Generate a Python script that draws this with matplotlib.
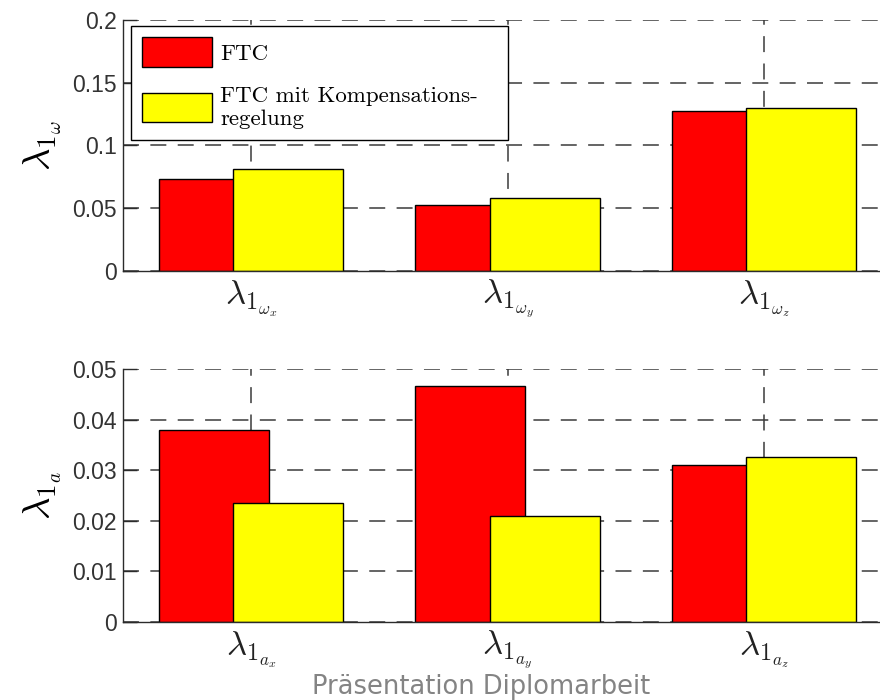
import numpy as np
import matplotlib
matplotlib.use("Agg")
import matplotlib.pyplot as plt

plt.rcParams['mathtext.fontset'] = 'cm'

# data
labels_omega = [r'$\lambda_{1_{\omega_x}}$', r'$\lambda_{1_{\omega_y}}$', r'$\lambda_{1_{\omega_z}}$']
labels_a = [r'$\lambda_{1_{a_x}}$', r'$\lambda_{1_{a_y}}$', r'$\lambda_{1_{a_z}}$']
ftc_omega = [0.0733, 0.0526, 0.1275]
komp_omega = [0.0813, 0.0582, 0.1299]
ftc_a = [0.0379, 0.0466, 0.0310]
komp_a = [0.0235, 0.0210, 0.0326]
yticks_omega = [0, 0.05, 0.1, 0.15, 0.2]
yticks_a = [0, 0.01, 0.02, 0.03, 0.04, 0.05]
legend_labels = ['FTC', 'FTC mit Kompensations-\nregelung']

W = 880.0
H = 700.0
fig = plt.figure(figsize=(8.8, 7), dpi=100)
ax1 = fig.add_axes([123 / W, 1 - 271 / H, 769 / W, 251 / H])
ax2 = fig.add_axes([123 / W, 1 - 622 / H, 769 / W, 253 / H])

axcol = '#2b2b2b'
x = np.arange(1, 4)
bw = 0.43
off = 0.145
lw_grid = 1.1
dash = (0, (11.5 / lw_grid, 8.2 / lw_grid))


def style(ax, ticks, ylab, xlabels):
    ax.set_xlim(0.5, 3.5)
    ax.set_ylim(ticks[0], ticks[-1])
    ax.set_yticks(ticks)
    ax.set_yticklabels(['0' if t == 0 else ('%g' % t) for t in ticks],
                       family='Liberation Sans', fontsize=16.5, color='#333333')
    ax.set_xticks(x)
    ax.set_xticklabels(xlabels, fontsize=25, color='#222222')
    ax.set_axisbelow(True)
    ax.grid(True, color='#3a3a3a', linestyle=dash, linewidth=lw_grid)
    ax.tick_params(direction='in', length=10, width=1.0, color=axcol)
    ax.tick_params(axis='y', pad=4.5)
    ax.tick_params(axis='x', pad=5)
    for s in ['top', 'right']:
        ax.spines[s].set_visible(False)
    for s in ['left', 'bottom']:
        ax.spines[s].set_color(axcol)
        ax.spines[s].set_linewidth(1.0)
    ax.set_ylabel(ylab, fontsize=28, labelpad=6)


b1 = ax1.bar(x - off, ftc_omega, bw, color='#ff0000', edgecolor='black', linewidth=1.0)
b2 = ax1.bar(x + off, komp_omega, bw, color='#ffff00', edgecolor='black', linewidth=1.0)
style(ax1, yticks_omega, r'$\lambda_{1_\omega}$', labels_omega)

ax2.bar(x - off, ftc_a, bw, color='#ff0000', edgecolor='black', linewidth=1.0)
ax2.bar(x + off, komp_a, bw, color='#ffff00', edgecolor='black', linewidth=1.0)
style(ax2, yticks_a, r'$\lambda_{1_a}$', labels_a)

leg = ax1.legend([b1, b2], legend_labels, loc='upper left',
                 bbox_to_anchor=(0.010, 0.5, 0.4906, 0.476), mode='expand',
                 borderaxespad=0,
                 prop={'family': 'cmr10', 'size': 16.5},
                 fancybox=False, framealpha=1, edgecolor='black',
                 handlelength=3.06, handleheight=1.6, handletextpad=0.35,
                 labelspacing=0.85, borderpad=0.5)
leg.get_frame().set_linewidth(1.0)

fig.text(481 / W, 1 - 694 / H, 'Präsentation Diplomarbeit', ha='center', va='baseline',
         family='DejaVu Sans', fontsize=18.5, color='#848484')

fig.savefig('out.png', dpi=100)
